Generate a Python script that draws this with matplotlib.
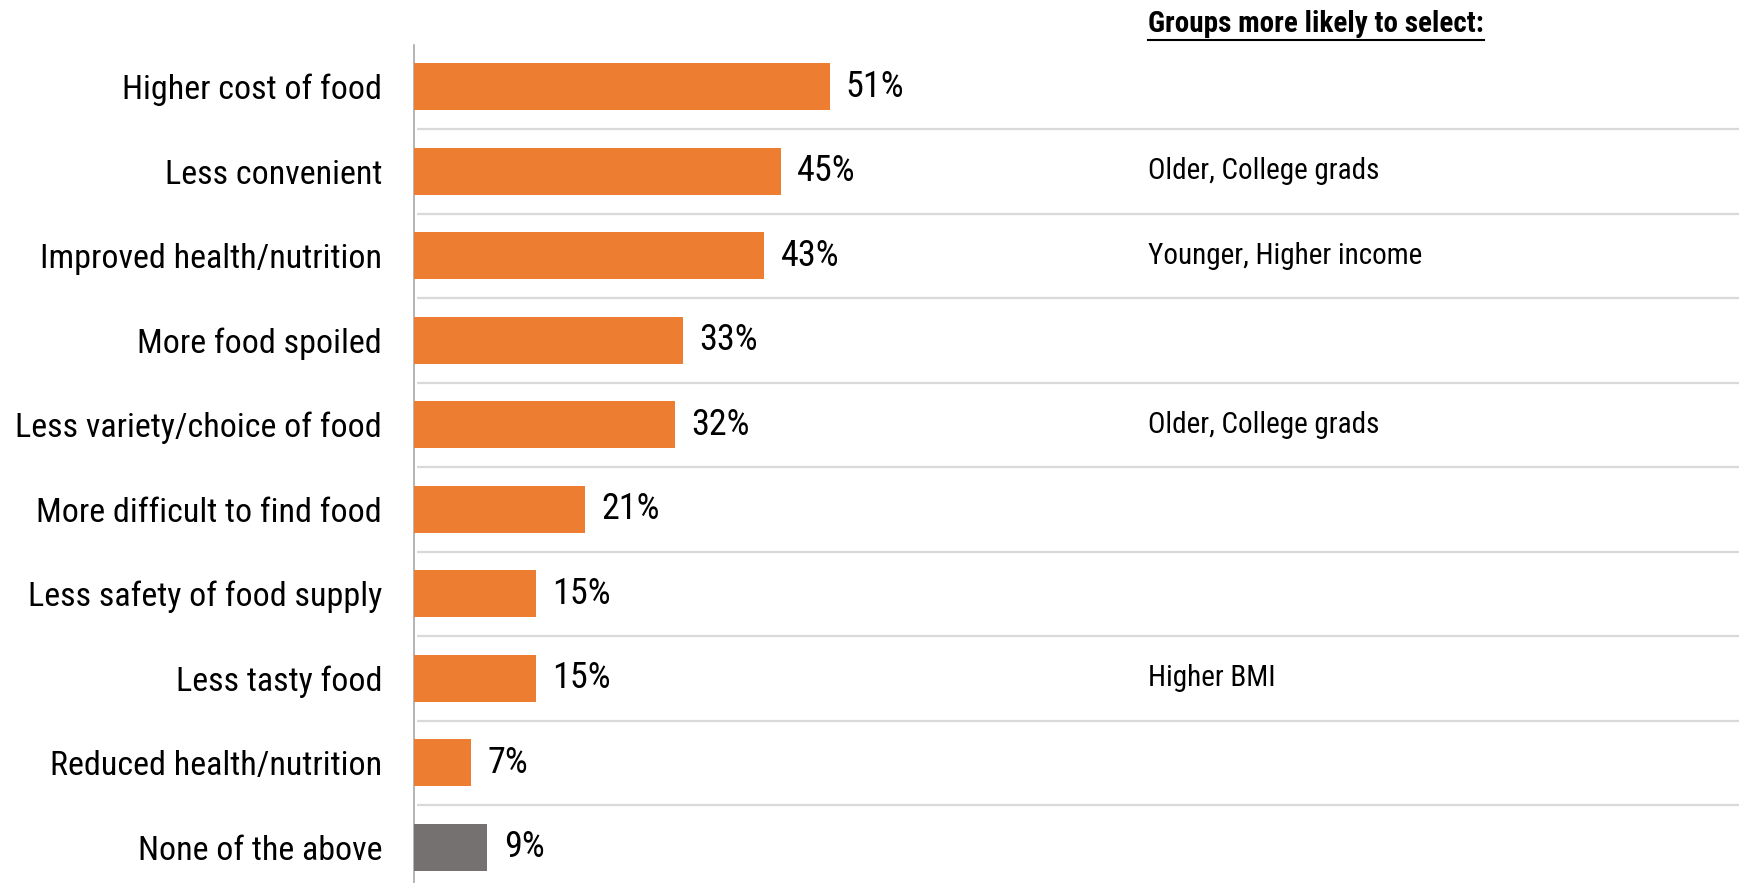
import matplotlib.pyplot as plt

plt.rcParams["font.family"] = ["Roboto Condensed", "DejaVu Sans"]

categories = [
    "Higher cost of food",
    "Less convenient",
    "Improved health/nutrition",
    "More food spoiled",
    "Less variety/choice of food",
    "More difficult to find food",
    "Less safety of food supply",
    "Less tasty food",
    "Reduced health/nutrition",
    "None of the above",
]
values = [51, 45, 43, 33, 32, 21, 15, 15, 7, 9]
groups = [
    "",
    "Older, College grads",
    "Younger, Higher income",
    "",
    "Older, College grads",
    "",
    "",
    "Higher BMI",
    "",
    "",
]
header = "Groups more likely to select:"

ORANGE = "#ED7D31"
GREY = "#767171"
colors = [ORANGE] * (len(values) - 1) + [GREY]

W, H = 1739, 883
AX_LEFT = 414

fig = plt.figure(figsize=(W / 100, H / 100), dpi=100)
ax = fig.add_axes([AX_LEFT / W, 0.0, 1 - AX_LEFT / W, 1 - 44.5 / H])

rows = list(range(len(categories)))
ax.barh(rows, values, height=0.56, color=colors, zorder=3)
ax.set_ylim(9.423, -0.5)
XMAX = 162.6
ax.set_xlim(0, XMAX)

# light separators between rows
ax.hlines([r + 0.5 for r in rows[:-1]], 0.4, XMAX, color="#d9d9d9", lw=1.6, zorder=1)

for r, v in zip(rows, values):
    ax.text(v + 2.0, r, f"{v}%", va="center", ha="left", fontsize=26)

for r, g in zip(rows, groups):
    if g:
        ax.text(90.1, r, g, va="center", ha="left", fontsize=21)

ax.set_yticks(rows)
ax.set_yticklabels(categories, fontsize=24.5)
ax.tick_params(axis="y", length=0, pad=23)
ax.set_xticks([])
for side in ["top", "right", "bottom"]:
    ax.spines[side].set_visible(False)
ax.spines["left"].set_color("#a0a0a0")
ax.spines["left"].set_linewidth(1.1)

title = fig.text(1148 / W, 1 - 24 / H, header, ha="left", va="center",
                 fontsize=21, fontweight="bold")

# underline the header
fig.canvas.draw()
bb = title.get_window_extent().transformed(fig.transFigure.inverted())
fig.add_artist(plt.Line2D([bb.x0, bb.x1], [bb.y0 - 0.002, bb.y0 - 0.002],
                          transform=fig.transFigure, color="black", lw=1.5))

fig.savefig("out.png", dpi=100, facecolor="white")
